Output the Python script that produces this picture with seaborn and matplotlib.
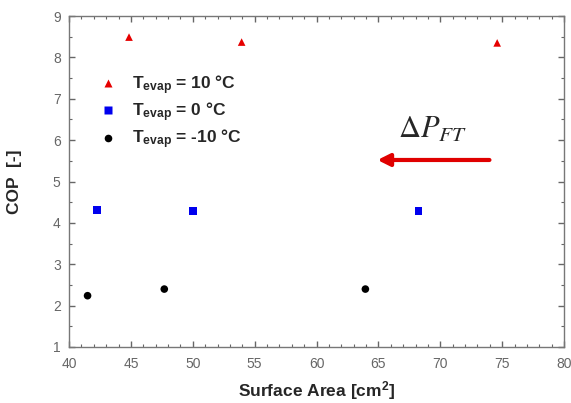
import numpy as np
import pandas as pd
import matplotlib
matplotlib.use("Agg")
import matplotlib.pyplot as plt
from matplotlib.ticker import MultipleLocator
import seaborn as sns

# ---- data ----
area_10 = [44.85, 53.95, 74.6]
cop_10 = [8.49, 8.37, 8.35]
area_0 = [42.25, 50.0, 68.25]
cop_0 = [4.31, 4.29, 4.29]
area_m10 = [41.5, 47.7, 63.95]
cop_m10 = [2.24, 2.40, 2.40]

legend_text = [r"$\mathbf{T_{evap}}$ = 10 °C", r"$\mathbf{T_{evap}}$ = 0 °C",
               r"$\mathbf{T_{evap}}$ = -10 °C"]

df = pd.DataFrame({
    "area": area_10 + area_0 + area_m10,
    "cop": cop_10 + cop_0 + cop_m10,
    "series": [legend_text[0]] * 3 + [legend_text[1]] * 3 + [legend_text[2]] * 3,
})

sns.set_theme(style="ticks")
plt.rcParams["font.family"] = ["Liberation Sans", "DejaVu Sans"]
plt.rcParams["mathtext.fontset"] = "custom"
plt.rcParams["mathtext.rm"] = "Liberation Sans"
plt.rcParams["mathtext.bf"] = "Liberation Sans:bold"
plt.rcParams["mathtext.it"] = "Liberation Sans:italic"

fig = plt.figure(figsize=(5.71, 4.03), dpi=100)
ax = fig.add_axes([69 / 571, 1 - 347 / 403, 495 / 571, 331 / 403])

palette = {legend_text[0]: "#e60000", legend_text[1]: "#0000ee", legend_text[2]: "#000000"}
markers = {legend_text[0]: "^", legend_text[1]: "s", legend_text[2]: "o"}
sns.scatterplot(data=df, x="area", y="cop", hue="series", style="series",
                hue_order=legend_text, style_order=legend_text,
                palette=palette, markers=markers, s=30, edgecolor="none", ax=ax)

ax.set_xlim(40, 80)
ax.set_ylim(1, 9)
ax.xaxis.set_major_locator(MultipleLocator(5))
ax.xaxis.set_minor_locator(MultipleLocator(1))
ax.yaxis.set_major_locator(MultipleLocator(1))
ax.yaxis.set_minor_locator(MultipleLocator(0.5))
ax.tick_params(which="both", direction="in", top=True, right=True,
               color="#666666", labelcolor="#666666", labelsize=10)
ax.tick_params(axis="x", pad=7)
ax.tick_params(axis="y", pad=6)
ax.tick_params(which="major", length=4, width=1)
ax.tick_params(which="minor", length=2, width=0.8)
for sp in ax.spines.values():
    sp.set_color("#777777")
    sp.set_linewidth(1)

ax.set_xlabel(r"Surface Area [cm$^\mathbf{2}$]", fontsize=12.5, fontweight="bold", labelpad=6)
ax.set_ylabel("COP  [-]", fontsize=12.5, fontweight="bold", labelpad=22)

leg = ax.legend(loc="upper left", bbox_to_anchor=(0.012, 0.875), frameon=False,
                fontsize=12.5, handletextpad=0.4, labelspacing=0.22, markerscale=1.0)
for t in leg.get_texts():
    t.set_fontweight("bold")

ax.annotate("", xy=(64.7, 5.52), xytext=(74.2, 5.52),
            arrowprops=dict(arrowstyle="-|>,head_length=0.6,head_width=0.3",
                            color="#e00000", lw=3))
ax.text(69.4, 6.25, r"$\Delta P_{FT}$", fontsize=22, ha="center", va="center",
        math_fontfamily="stix")

fig.savefig("out.png", dpi=100)
